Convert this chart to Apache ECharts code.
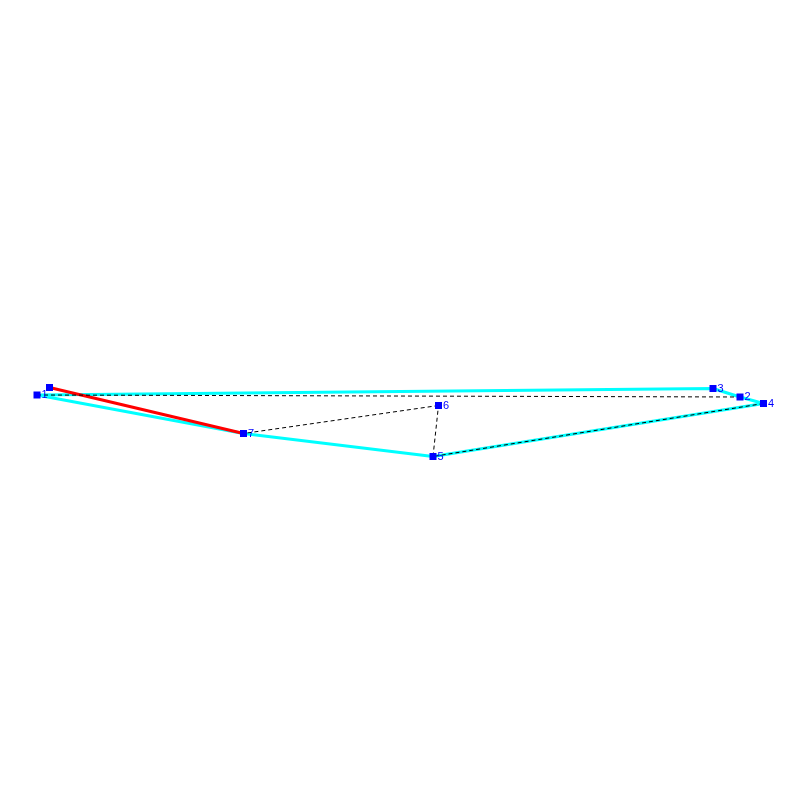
<!DOCTYPE html>
<html>
<head>
<meta charset="utf-8">
<style>
  html, body { margin: 0; padding: 0; background: #fff; }
  #main { width: 800px; height: 800px; }
</style>
<script src="https://cdn.jsdelivr.net/npm/echarts@6/dist/echarts.min.js"></script>
</head>
<body>
<div id="main"></div>
<script>
// node positions, index 0 is the unlabelled node
var nodeLabels = ['', '1', '2', '3', '4', '5', '6', '7'];
var nodeX = [49.5, 37, 740, 713, 763.5, 433, 438.5, 243.5];
var nodeY = [387.5, 395, 397, 388.5, 403.5, 456.5, 405.5, 433.5];

// edges as node indexes
var cyanPath = [1, 3, 2, 4, 5, 7, 1];
var redPath = [0, 7];
var dashedEdges = [[1, 2], [4, 5], [5, 6], [6, 7]];

function pts(path) {
  return path.map(function (i) { return [nodeX[i], nodeY[i]]; });
}

function lineSeries(path, color, width, type, z) {
  return {
    type: 'line',
    data: pts(path),
    symbol: 'none',
    silent: true,
    animation: false,
    z: z,
    lineStyle: { color: color, width: width, type: type }
  };
}

var series = [
  lineSeries(cyanPath, '#00ffff', 3, 'solid', 2),
  lineSeries(redPath, '#ff0000', 3, 'solid', 3)
];
dashedEdges.forEach(function (e) {
  series.push(lineSeries(e, '#000000', 1, [4, 3], 4));
});
series.push({
  type: 'scatter',
  data: nodeX.map(function (x, i) { return { value: [x, nodeY[i]], name: nodeLabels[i] }; }),
  symbol: 'rect',
  symbolSize: 7,
  animation: false,
  z: 5,
  itemStyle: { color: '#0000ff', opacity: 1 },
  label: {
    show: true,
    position: 'right',
    distance: 1,
    color: '#0000ff',
    fontSize: 11,
    fontFamily: 'Liberation Sans',
    formatter: function (p) { return p.name; }
  }
});

var chart = echarts.init(document.getElementById('main'));
chart.setOption({
  backgroundColor: '#ffffff',
  grid: { left: 0, right: 0, top: 0, bottom: 0 },
  xAxis: { type: 'value', min: 0, max: 800, show: false },
  yAxis: { type: 'value', min: 0, max: 800, inverse: true, show: false },
  series: series
});
</script>
</body>
</html>
